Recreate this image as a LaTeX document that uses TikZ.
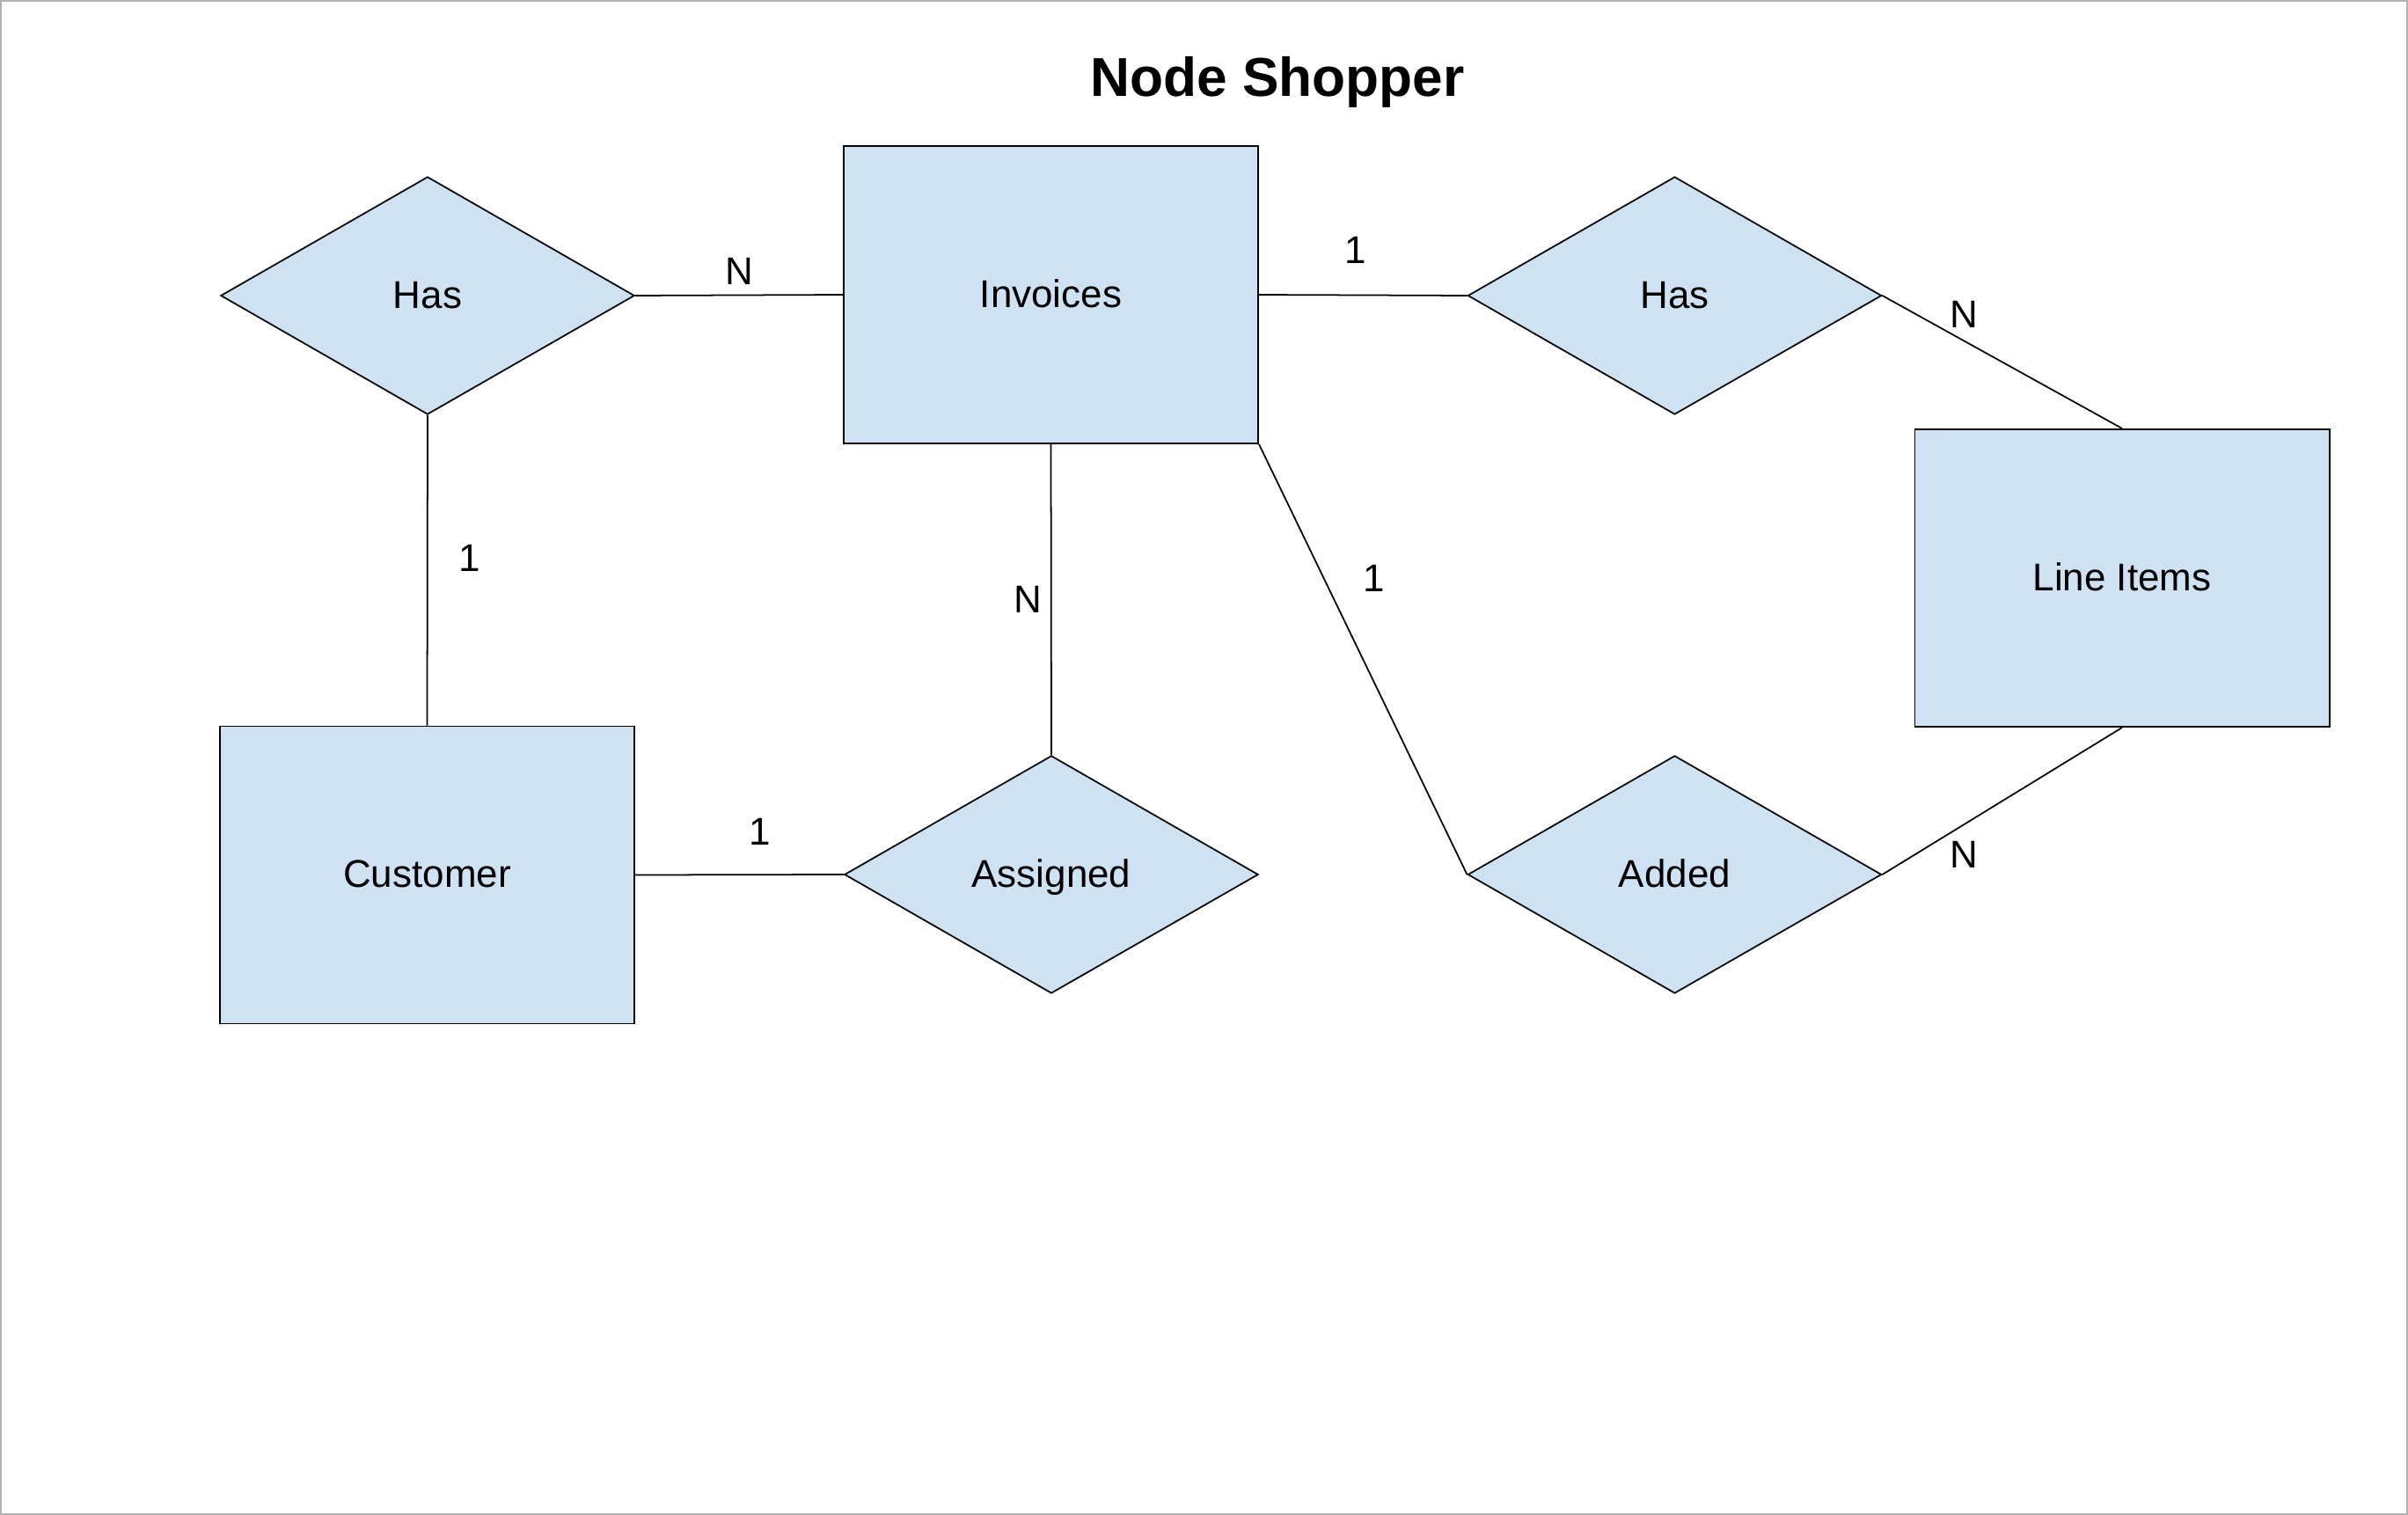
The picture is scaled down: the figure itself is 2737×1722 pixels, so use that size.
\documentclass[tikz,border=0pt]{standalone}
\usepackage{fontspec}
\setmainfont{Liberation Sans}
\usetikzlibrary{shapes.geometric}
\definecolor{erfill}{HTML}{CFE2F3}
\tikzset{
  txt/.style={font=\fontsize{12.5pt}{14pt}\selectfont, text height=1.07em, text depth=0.25em},
  entity/.style={txt, draw=black, fill=erfill, line width=0.5pt, rectangle, minimum width=4.71cm, minimum height=3.38cm, inner sep=0pt},
  relation/.style={txt, draw=black, fill=erfill, line width=0.5pt, diamond, minimum width=4.70cm, minimum height=2.70cm, inner sep=0pt},
  conn/.style={draw=black, line width=0.5pt},
  card/.style={txt, inner sep=0pt},
}
\begin{document}
\begin{tikzpicture}[x=0.01cm, y=-0.01cm]
\useasboundingbox (0,0) rectangle (2737,1722);
\fill[white] (0,0) rectangle (2737,1722);
\draw[gray!60, line width=0.5pt] (1,1) rectangle (2736,1721);
\node[font=\bfseries\fontsize{17.7pt}{20pt}\selectfont, anchor=base, inner sep=0pt] (title) at (1452,110) {Node Shopper};

\node[entity] (inv) at (1194.5,335) {Invoices};
\node[entity] (li) at (2412,657) {Line Items};
\node[entity] (cust) at (485.5,994.5) {Customer};

\node[relation] (has1) at (486,336) {Has};
\node[relation] (has2) at (1903.5,336) {Has};
\node[relation] (asg) at (1195,994) {Assigned};
\node[relation] (add) at (1903.5,994) {Added};

\draw[conn] (has1.east) -- (inv.west);
\draw[conn] (has1.south) -- (cust.north);
\draw[conn] (cust.east) -- (asg.west);
\draw[conn] (inv.south) -- (asg.north);
\draw[conn] (inv.south east) -- (add.west);
\draw[conn] (inv.east) -- (has2.west);
\draw[conn] (has2.east) -- (li.north);
\draw[conn] (li.south) -- (add.east);

\node[card] (c1) at (840,309) {N};
\node[card] (c2) at (1541,285) {1};
\node[card] (c3) at (2232,358) {N};
\node[card] (c4) at (534,635) {1};
\node[card] (c5) at (1168,682) {N};
\node[card] (c6) at (1562,658) {1};
\node[card] (c7) at (864,946) {1};
\node[card] (c8) at (2232,972) {N};
\end{tikzpicture}
\end{document}
